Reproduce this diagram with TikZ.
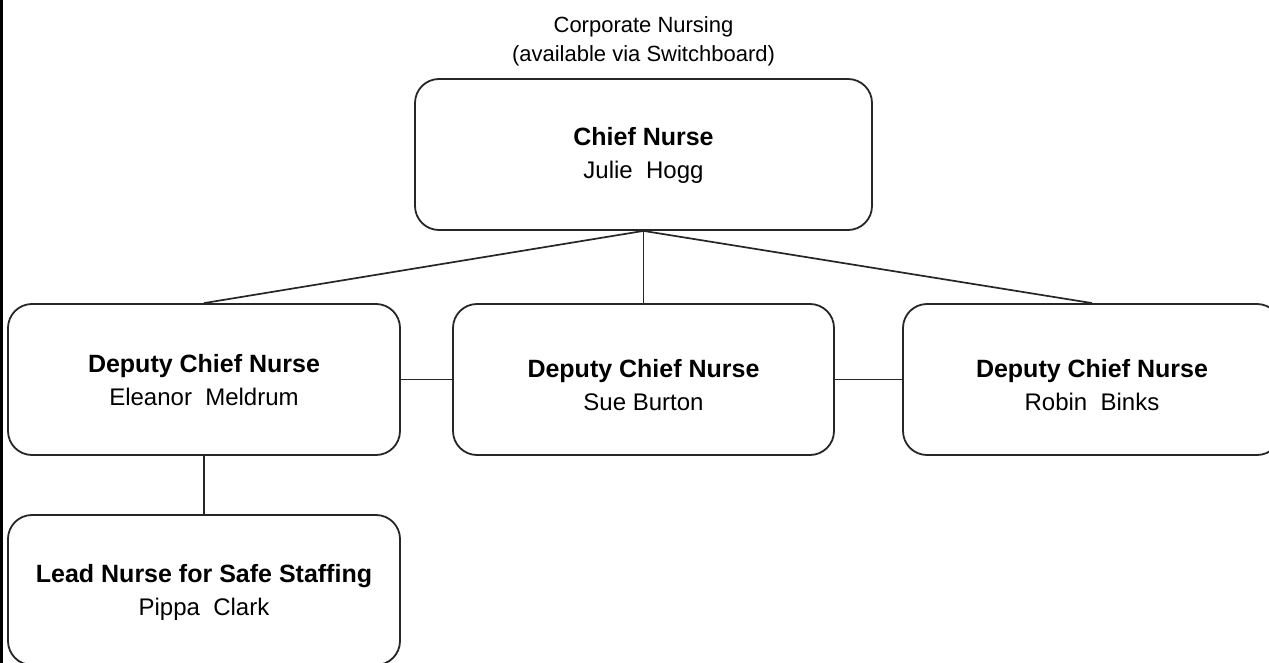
\documentclass[tikz,border=0pt]{standalone}
\usepackage{fontspec}
\setmainfont{Liberation Sans}
\begin{document}
\begin{tikzpicture}[x=1pt,y=-1pt,
  box/.style={draw=black!85, line width=1.8pt, rounded corners=24pt, inner sep=0pt},
  conn/.style={draw=black!85, line width=1.7pt},
  titletxt/.style={font=\fontsize{25}{29}\selectfont\bfseries, inner sep=0pt, anchor=base},
  nametxt/.style={font=\fontsize{24}{28}\selectfont, inner sep=0pt, anchor=base},
  headtxt/.style={font=\fontsize{22}{26}\selectfont, inner sep=0pt, anchor=base}]
\useasboundingbox (0,0) rectangle (1269,663);
\fill[white] (0,0) rectangle (1269,663);
% left frame line
\coordinate (ftop) at (1.3,0);
\coordinate (fbot) at (1.3,663);
\draw[line width=2.6pt] (ftop) -- (fbot);

% header
\node[headtxt] (corp) at (643.5,33) {Corporate Nursing};
\node[headtxt] (avail) at (643.5,62) {(available via Switchboard)};

% boxes
\node[box, minimum width=457pt, minimum height=151pt] (chief) at (643.5,154.5) {};
\node[box, minimum width=392pt, minimum height=151pt] (dl) at (204,379.5) {};
\node[box, minimum width=381pt, minimum height=151pt] (dm) at (643.5,379.5) {};
\node[box, minimum width=378pt, minimum height=151pt] (dr) at (1092,379.5) {};
\node[box, minimum width=392pt, minimum height=150pt] (lead) at (204,590) {};

% texts
\node[titletxt] (chiefA) at (643.5,146) {Chief Nurse};
\node[nametxt] (chiefB) at (643.5,179) {Julie\ \ Hogg};
\node[titletxt] (dlA) at (204,372) {Deputy Chief Nurse};
\node[nametxt] (dlB) at (204,405) {Eleanor\ \ Meldrum};
\node[titletxt] (dmA) at (643.5,377) {Deputy Chief Nurse};
\node[nametxt] (dmB) at (643.5,410.5) {Sue Burton};
\node[titletxt] (drA) at (1092,377) {Deputy Chief Nurse};
\node[nametxt] (drB) at (1092,410.5) {Robin\ \ Binks};
\node[titletxt] (leadA) at (204,582.5) {Lead Nurse for Safe Staffing};
\node[nametxt] (leadB) at (204,615) {Pippa\ \ Clark};

% connectors
\draw[conn] (chief.south) -- (dl.north);
\draw[conn] (chief.south) -- (dm.north);
\draw[conn] (chief.south) -- (dr.north);
\draw[conn] (dl.east) -- (dm.west);
\draw[conn] (dm.east) -- (dr.west);
\draw[conn] (dl.south) -- (lead.north);
\end{tikzpicture}
\end{document}
